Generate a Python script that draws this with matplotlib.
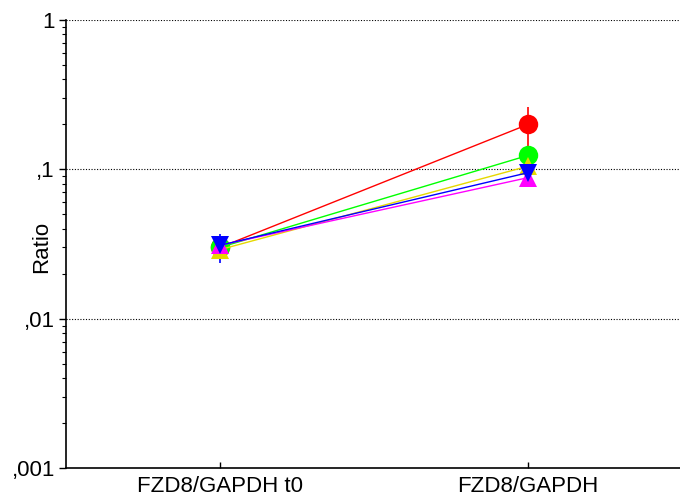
import matplotlib
matplotlib.use("Agg")
import matplotlib.pyplot as plt
from matplotlib.ticker import FixedLocator, LogLocator, NullFormatter

plt.rcParams['font.family'] = ['Liberation Sans', 'DejaVu Sans']

categories = ["FZD8/GAPDH t0", "FZD8/GAPDH"]
series_names = ["red", "green", "yellow", "magenta", "blue"]
colors = ["#FF0000", "#00FF00", "#E6D800", "#FF00FF", "#0000FF"]
markers = ["o", "o", "^", "^", "v"]
means = {
    "red":     [0.030, 0.200],
    "green":   [0.030, 0.124],
    "yellow":  [0.029, 0.105],
    "magenta": [0.031, 0.088],
    "blue":    [0.031, 0.095],
}
err_low = {
    "red":     [0.003, 0.060],
    "green":   [0.003, 0.010],
    "yellow":  [0.003, 0.008],
    "magenta": [0.003, 0.006],
    "blue":    [0.0075, 0.006],
}
err_high = {
    "red":     [0.003, 0.062],
    "green":   [0.003, 0.010],
    "yellow":  [0.003, 0.008],
    "magenta": [0.003, 0.006],
    "blue":    [0.0058, 0.006],
}
y_ticks = [0.001, 0.01, 0.1, 1]
y_tick_labels = [",001", ",01", ",1", "1"]

fig = plt.figure(figsize=(6.8, 4.99), dpi=100)
ax = fig.add_axes([0.097, 0.062, 0.903, 0.898])

x = list(range(len(categories)))
for name, col, mk in zip(series_names, colors, markers):
    ax.errorbar(x, means[name], yerr=[err_low[name], err_high[name]],
                color=col, marker=mk,
                markersize=14 if mk == "o" else 13, linewidth=1.0,
                elinewidth=1.2, capsize=6, capthick=1.2,
                markeredgewidth=0, zorder=3)

ax.set_yscale("log")
ax.set_ylim(0.001, 1)
ax.set_xlim(-0.5, 1.493)
ax.yaxis.set_major_locator(FixedLocator(y_ticks))
ax.set_yticklabels(y_tick_labels)
ax.yaxis.set_minor_locator(LogLocator(base=10, subs=range(2, 10)))
ax.yaxis.set_minor_formatter(NullFormatter())
for gy in [0.01, 0.1, 1]:
    ax.axhline(gy, color="black", linestyle=(0, (1, 1.5)), linewidth=0.8, zorder=1)

ax.set_xticks(x)
ax.set_xticklabels(categories)
ax.set_ylabel("Ratio", fontsize=16)
ax.yaxis.set_label_coords(-0.023, 0.493)

ax.spines["top"].set_visible(False)
ax.spines["right"].set_visible(False)
for s in ["left", "bottom"]:
    ax.spines[s].set_linewidth(1.2)

ax.tick_params(axis="y", which="major", direction="out", length=5, width=1.0,
               labelsize=16, pad=3)
ax.tick_params(axis="y", which="minor", direction="out", length=3, width=0.8)
ax.tick_params(axis="x", which="major", direction="in", length=4, width=1.0,
               labelsize=16, pad=6)

fig.savefig("out.png", dpi=100)
